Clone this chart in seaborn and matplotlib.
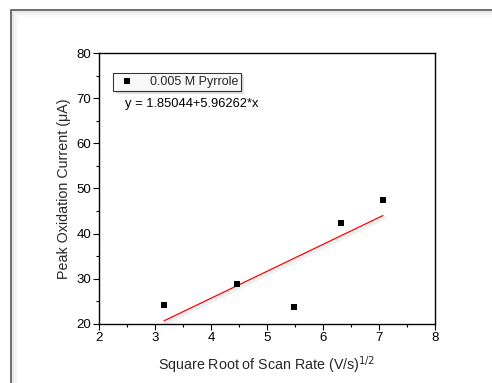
import matplotlib
matplotlib.use("Agg")
import matplotlib.pyplot as plt
import matplotlib.patches as mpatches
import matplotlib.patheffects as pe
import numpy as np
import pandas as pd
import seaborn as sns

# Data
sqrt_scan_rate = [3.162, 4.472, 5.477, 6.325, 7.071]
peak_current = [24.1, 28.9, 23.8, 42.4, 47.5]
series_label = "0.005 M Pyrrole"
intercept = 1.85044
slope = 5.96262
fit_label = "y = 1.85044+5.96262*x"
x_ticks = [2, 3, 4, 5, 6, 7, 8]
y_ticks = [20, 30, 40, 50, 60, 70, 80]

sns.set_theme(style="white")
plt.rcParams['font.family'] = ['Liberation Sans', 'DejaVu Sans']

W, H = 492, 383
fig = plt.figure(figsize=(W / 100, H / 100), dpi=100)
fig.patch.set_facecolor("white")

# outer frame with soft inner shadow
for i, a in enumerate([0.08, 0.06, 0.04, 0.03, 0.02, 0.01]):
    fig.patches.append(mpatches.Rectangle(((11 + i + 1) / W, -0.1), 2, (H - 10 - i - 1) / H + 0.1,
                                          transform=fig.transFigure, fill=False,
                                          edgecolor=(0, 0, 0, a), linewidth=1.0, zorder=0))
fig.patches.append(mpatches.Rectangle((11 / W, -0.1), 2, (H - 10) / H + 0.1,
                                      transform=fig.transFigure, fill=False,
                                      edgecolor="#555555", linewidth=1.2, zorder=1))

ax = fig.add_axes([99 / W, 1 - 324 / H, (435 - 99) / W, (324 - 53) / H])
ax.set_facecolor("white")

df = pd.DataFrame({"x": sqrt_scan_rate, "y": peak_current})
shadow = [pe.SimplePatchShadow(offset=(2, -2), shadow_rgbFace="#000000", alpha=0.12), pe.Normal()]
shadow_line = [pe.SimpleLineShadow(offset=(1.5, -1.5), shadow_color="#000000", alpha=0.06, linewidth=2.5), pe.Normal()]

sns.scatterplot(data=df, x="x", y="y", marker="s", s=22, color="black",
                edgecolor="black", linewidth=0, ax=ax, zorder=3, label=series_label)

fit_x = np.array([min(sqrt_scan_rate), max(sqrt_scan_rate)])
fit_df = pd.DataFrame({"x": fit_x, "y": intercept + slope * fit_x})
sns.lineplot(data=fit_df, x="x", y="y", color="#ff0000", linewidth=0.9, ax=ax, zorder=2,
             legend=False)
ax.lines[-1].set_path_effects(shadow_line)

ax.set_xlim(2, 8)
ax.set_ylim(20, 80)
ax.set_xticks(x_ticks)
ax.set_yticks(y_ticks)
ax.set_xticks(np.arange(2.5, 8, 1.0), minor=True)
ax.set_yticks(np.arange(25, 80, 10), minor=True)
ax.tick_params(axis="both", which="major", direction="out", length=4, width=0.8,
               colors="black", labelsize=9.5, pad=1.5, bottom=True, left=True)
ax.tick_params(axis="both", which="minor", direction="out", length=2, width=0.8,
               colors="black", bottom=True, left=True)
for sp in ax.spines.values():
    sp.set_visible(True)
    sp.set_color("black")
    sp.set_linewidth(1.0)

ax.set_xlabel("Square Root of Scan Rate (V/s)$^{1/2}$", fontsize=10.3, labelpad=8)
ax.set_ylabel("Peak Oxidation Current (\u03bcA)", fontsize=10.3, labelpad=4)

leg = ax.legend(loc="upper left", bbox_to_anchor=((113 - 99) / 336, 1 - (72.5 - 53) / 271),
                borderaxespad=0, frameon=True, fancybox=False, fontsize=9,
                handlelength=1.8, handletextpad=0.9, borderpad=0.25, markerscale=0.9)
leg.get_frame().set_edgecolor("black")
leg.get_frame().set_linewidth(0.8)
leg.get_frame().set_path_effects(shadow)

ax.text((125 - 99) / 336, 1 - (104.5 - 53) / 271, fit_label, transform=ax.transAxes,
        fontsize=9.3, va="center", ha="left", color="black")

fig.savefig("out.png", dpi=100)
